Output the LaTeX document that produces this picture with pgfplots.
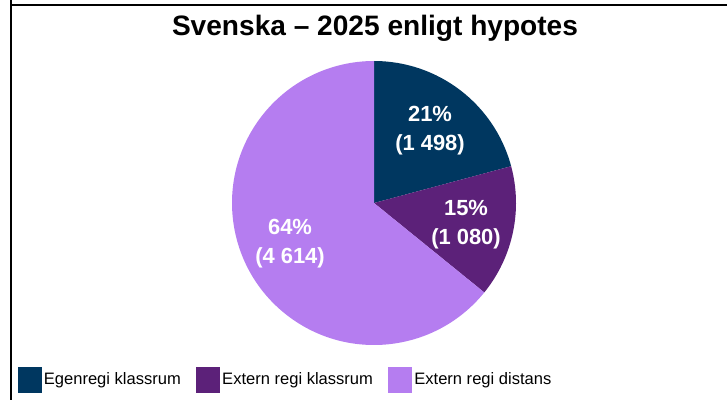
\documentclass[border=0pt]{standalone}
\usepackage{pgfplots}
\usepackage{pgfplotstable}
\pgfplotsset{compat=1.18}
\usepackage{fontspec}
\setmainfont{Liberation Sans}
\definecolor{cnavy}{RGB}{0,55,96}
\definecolor{cpurple}{RGB}{92,33,121}
\definecolor{clight}{RGB}{181,125,240}

\pgfplotstableread{
label value
EgenregiKlassrum 1498
ExternRegiKlassrum 1080
ExternRegiDistans 4614
}\piedata

\begin{document}
\begin{tikzpicture}
\pgfplotstablegetelem{0}{value}\of\piedata \let\va\pgfplotsretval
\pgfplotstablegetelem{1}{value}\of\piedata \let\vb\pgfplotsretval
\pgfplotstablegetelem{2}{value}\of\piedata \let\vc\pgfplotsretval
\pgfmathsetmacro\tot{\va+\vb+\vc}
\pgfmathsetmacro\aA{90-360*(\va/\tot)}
\pgfmathsetmacro\aB{\aA-360*(\vb/\tot)}
\begin{axis}[
  scale only axis, width=727bp, height=400bp,
  xmin=0, xmax=727, ymin=0, ymax=400,
  hide axis, clip=false,
  legend columns=3,
  legend cell align=left,
  legend image code/.code={\fill[#1] (0bp,-12.5bp) rectangle (23bp,12.5bp);},
  legend style={at={(18/727,20.5/400)}, anchor=west, draw=none, fill=none,
    inner sep=0pt, outer sep=0pt,
    font=\fontsize{16.6}{18}\selectfont,
    nodes={inner sep=0pt},
    /tikz/every odd column/.append style={column sep=2.5bp},
    /tikz/every even column/.append style={column sep=15.5bp}},
]
\coordinate (bl) at (axis cs:0,0);
\coordinate (tr) at (axis cs:727,400);
% frame
\draw[black, line width=1.6bp] (axis cs:11,400) -- (axis cs:11,0);
\draw[black, line width=1.6bp] (axis cs:10.2,395) -- (axis cs:727,395);
% pie slices
\fill[cnavy] (axis cs:374,197) -- ++(90:142bp) arc[start angle=90, end angle=\aA, radius=142bp] -- cycle;
\fill[cpurple] (axis cs:374,197) -- ++(\aA:142bp) arc[start angle=\aA, end angle=\aB, radius=142bp] -- cycle;
\fill[clight] (axis cs:374,197) -- ++(\aB:142bp) arc[start angle=\aB, end angle=-270, radius=142bp] -- cycle;
% labels
\node[white, align=center, font=\fontsize{22}{29}\selectfont\bfseries] at (axis cs:430,269) {21\%\\(1 498)};
\node[white, align=center, font=\fontsize{22}{29}\selectfont\bfseries] at (axis cs:466,175) {15\%\\(1 080)};
\node[white, align=center, font=\fontsize{22}{29}\selectfont\bfseries] at (axis cs:290,156) {64\%\\(4 614)};
% title
\node[anchor=base, font=\fontsize{28.2}{30}\selectfont\bfseries] at (axis cs:375,365) {Svenska – 2025 enligt hypotes};
\addlegendimage{cnavy}
\addlegendentry{Egenregi klassrum}
\addlegendimage{cpurple}
\addlegendentry{Extern regi klassrum}
\addlegendimage{clight}
\addlegendentry{Extern regi distans}
\end{axis}
\pgfresetboundingbox
\useasboundingbox (bl) rectangle (tr);
\end{tikzpicture}
\end{document}
